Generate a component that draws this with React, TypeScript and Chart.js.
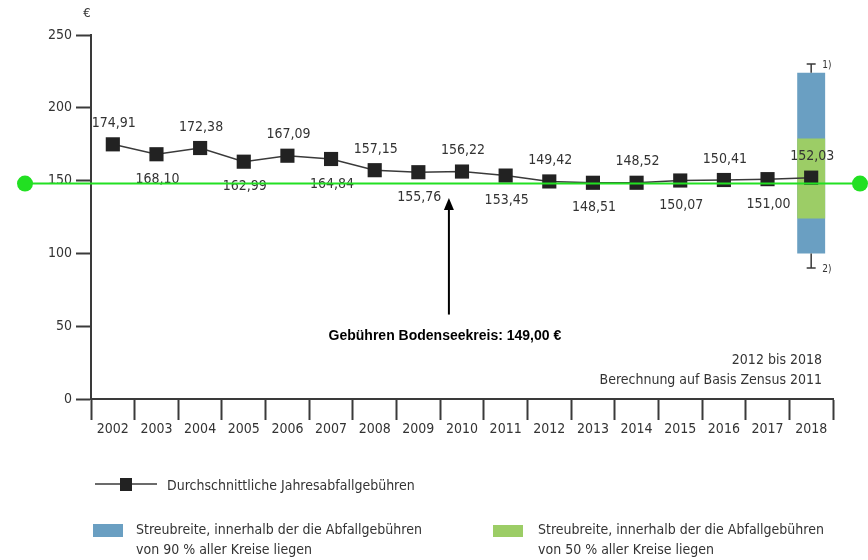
import { useEffect, useRef } from "react";
import { Chart, registerables } from "chart.js";

Chart.register(...registerables);

const years = ["2002", "2003", "2004", "2005", "2006", "2007", "2008", "2009", "2010", "2011", "2012", "2013", "2014", "2015", "2016", "2017", "2018"];
const avgFees = [174.91, 168.1, 172.38, 162.99, 167.09, 164.84, 157.15, 155.76, 156.22, 153.45, 149.42, 148.51, 148.52, 150.07, 150.41, 151.0, 152.03];
const feeLabels = ["174,91", "168,10", "172,38", "162,99", "167,09", "164,84", "157,15", "155,76", "156,22", "153,45", "149,42", "148,51", "148,52", "150,07", "150,41", "151,00", "152,03"];
const rangeYear = "2018";
const range90 = [100, 224];
const range50 = [124, 179];
const whiskerLow = 90;
const whiskerHigh = 230;
const bodenseeFee = 149;
const bodenseeText = "Gebühren Bodenseekreis: 149,00 €";
const noteLines = ["2012 bis 2018", "Berechnung auf Basis Zensus 2011"];
const legendLine = "Durchschnittliche Jahresabfallgebühren";
const legend90 = ["Streubreite, innerhalb der die Abfallgebühren", "von 90 % aller Kreise liegen"];
const legend50 = ["Streubreite, innerhalb der die Abfallgebühren", "von 50 % aller Kreise liegen"];

const FONT = "'Liberation Sans Narrow', 'DejaVu Sans Condensed', sans-serif";
const AXIS = "#3a3a3a";
const TEXT = "#333333";
const BLUE = "#6a9fc2";
const GREEN = "#9ccd66";
const LIME = "#22e022";
const MARK = "#222222";

const overlay = {
  id: "overlay",
  afterDatasetsDraw(chart: any) {
    const { ctx, scales } = chart;
    const x = scales.x;
    const y = scales.y;
    ctx.save();

    // whiskers
    const ri = years.indexOf(rangeYear);
    const cx = x.getPixelForValue(ri);
    ctx.strokeStyle = AXIS;
    ctx.lineWidth = 1.5;
    ctx.beginPath();
    ctx.moveTo(cx, y.getPixelForValue(range90[1]));
    ctx.lineTo(cx, y.getPixelForValue(whiskerHigh));
    ctx.moveTo(cx - 4.5, y.getPixelForValue(whiskerHigh));
    ctx.lineTo(cx + 4.5, y.getPixelForValue(whiskerHigh));
    ctx.moveTo(cx, y.getPixelForValue(range90[0]));
    ctx.lineTo(cx, y.getPixelForValue(whiskerLow));
    ctx.moveTo(cx - 4.5, y.getPixelForValue(whiskerLow));
    ctx.lineTo(cx + 4.5, y.getPixelForValue(whiskerLow));
    ctx.stroke();
    ctx.fillStyle = TEXT;
    ctx.font = `10px ${FONT}`;
    ctx.textAlign = "left";
    ctx.textBaseline = "middle";
    ctx.fillText("1)", cx + 11, y.getPixelForValue(whiskerHigh) + 1);
    ctx.fillText("2)", cx + 11, y.getPixelForValue(whiskerLow) + 1);

    // data labels
    ctx.font = `14px ${FONT}`;
    ctx.textAlign = "center";
    avgFees.forEach((v, i) => {
      const px = x.getPixelForValue(i);
      const py = y.getPixelForValue(v);
      const dy = i % 2 === 0 ? -21 : 25;
      ctx.fillText(feeLabels[i], px + 1, py + dy);
    });

    // green reference line
    const gy = y.getPixelForValue(bodenseeFee) + 1.5;
    ctx.strokeStyle = LIME;
    ctx.fillStyle = LIME;
    ctx.lineWidth = 2;
    ctx.beginPath();
    ctx.moveTo(25, gy);
    ctx.lineTo(860, gy);
    ctx.stroke();
    [25, 860].forEach((px) => {
      ctx.beginPath();
      ctx.arc(px, gy, 8, 0, Math.PI * 2);
      ctx.fill();
    });
    ctx.restore();
  },
  afterDraw(chart: any) {
    const { ctx, scales, chartArea } = chart;
    const x = scales.x;
    const y = scales.y;
    ctx.save();

    // euro unit
    ctx.fillStyle = TEXT;
    ctx.font = `13px ${FONT}`;
    ctx.textAlign = "center";
    ctx.textBaseline = "middle";
    ctx.fillText("€", chartArea.left - 4, 14);

    // arrow
    const ax = x.getPixelForValue(7.7);
    const tipY = y.getPixelForValue(bodenseeFee) + 16;
    const baseY = y.getPixelForValue(58);
    ctx.strokeStyle = "#000";
    ctx.fillStyle = "#000";
    ctx.lineWidth = 2;
    ctx.beginPath();
    ctx.moveTo(ax, tipY + 10);
    ctx.lineTo(ax, baseY);
    ctx.stroke();
    ctx.beginPath();
    ctx.moveTo(ax, tipY);
    ctx.lineTo(ax - 5, tipY + 12);
    ctx.lineTo(ax + 5, tipY + 12);
    ctx.closePath();
    ctx.fill();

    ctx.font = "bold 14px 'Liberation Sans', Arial, sans-serif";
    ctx.fillText(bodenseeText, ax - 4, baseY + 22);

    // note
    ctx.fillStyle = TEXT;
    ctx.font = `14px ${FONT}`;
    ctx.textAlign = "right";
    ctx.fillText(noteLines[0], chartArea.right - 11, 360);
    ctx.fillText(noteLines[1], chartArea.right - 11, 380);

    // legend: line
    ctx.strokeStyle = AXIS;
    ctx.lineWidth = 1.5;
    ctx.beginPath();
    ctx.moveTo(95, 484);
    ctx.lineTo(157, 484);
    ctx.stroke();
    ctx.fillStyle = MARK;
    ctx.fillRect(120, 478, 12, 13);
    ctx.fillStyle = TEXT;
    ctx.textAlign = "left";
    ctx.fillText(legendLine, 167, 486);

    // legend boxes
    ctx.fillStyle = BLUE;
    ctx.fillRect(93, 524, 30, 13);
    ctx.fillStyle = GREEN;
    ctx.fillRect(493, 525, 30, 12);
    ctx.fillStyle = TEXT;
    ctx.fillText(legend90[0], 136, 530);
    ctx.fillText(legend90[1], 136, 550);
    ctx.fillText(legend50[0], 538, 530);
    ctx.fillText(legend50[1], 538, 550);
    ctx.restore();
  },
};

export default function App() {
  const ref = useRef<HTMLCanvasElement>(null);
  useEffect(() => {
    document.body.style.margin = "0";
    const blueData = years.map((yr) => (yr === rangeYear ? range90 : null));
    const greenData = years.map((yr) => (yr === rangeYear ? range50 : null));
    const chart = new Chart(ref.current as HTMLCanvasElement, {
      type: "bar",
      data: {
        labels: years,
        datasets: [
          {
            type: "line",
            data: avgFees,
            borderColor: AXIS,
            borderWidth: 1.5,
            pointStyle: "rect",
            pointRadius: 10,
            pointBackgroundColor: MARK,
            pointBorderColor: MARK,
            pointBorderWidth: 0,
            order: 1,
          } as any,
          {
            type: "bar",
            data: greenData as any,
            backgroundColor: GREEN,
            grouped: false,
            barPercentage: 0.64,
            categoryPercentage: 1,
            order: 2,
          } as any,
          {
            type: "bar",
            data: blueData as any,
            backgroundColor: BLUE,
            grouped: false,
            barPercentage: 0.64,
            categoryPercentage: 1,
            order: 3,
          } as any,
        ],
      },
      options: {
        responsive: false,
        animation: false,
        layout: { padding: { top: 35, right: 35, left: 0, bottom: 0 } },
        plugins: { legend: { display: false }, tooltip: { enabled: false } },
        scales: {
          x: {
            offset: true,
            grid: { offset: true, drawOnChartArea: false, tickLength: 21, tickColor: AXIS, tickWidth: 2 },
            border: { color: AXIS, width: 2 },
            ticks: { color: TEXT, font: { family: FONT, size: 14 }, padding: 1, maxRotation: 0, autoSkip: false },
            afterFit: (s: any) => {
              s.height = 161;
            },
          },
          y: {
            min: 0,
            max: 250,
            ticks: { stepSize: 50, color: TEXT, font: { family: FONT, size: 14 }, padding: 4 },
            grid: { drawOnChartArea: false, tickLength: 15, tickColor: AXIS, tickWidth: 2 },
            border: { color: AXIS, width: 2 },
            afterFit: (s: any) => {
              s.width = 91;
            },
          },
        },
      } as any,
      plugins: [overlay],
    });
    return () => chart.destroy();
  }, []);
  return <canvas ref={ref} width={868} height={560} style={{ display: "block" }} />;
}
